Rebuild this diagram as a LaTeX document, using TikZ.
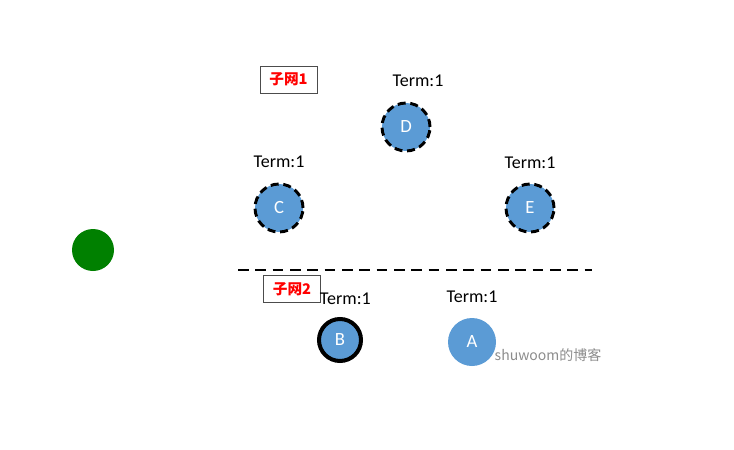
\documentclass[tikz,border=0pt]{standalone}
\usepackage{fontspec}
\setmainfont{Carlito}
\newfontfamily\cjk{Noto Sans CJK SC}
\usetikzlibrary{positioning}

\definecolor{hostblue}{RGB}{91,155,213}
\definecolor{rootgreen}{RGB}{0,128,0}

\begin{document}
\begin{tikzpicture}[
  x=0.75pt, y=-0.75pt,
  host/.style={circle, fill=hostblue, minimum size=48*0.75pt, inner sep=0pt, text=white, font=\fontsize{14}{16}\selectfont},
  member/.style={host, draw=black, line width=2.2pt, dash pattern=on 6pt off 3.5pt},
  switch/.style={host, draw=black, line width=3pt, minimum size=42*0.75pt},
  root/.style={circle, fill=rootgreen, minimum size=42*0.75pt, inner sep=0pt},
  term/.style={font=\fontsize{13.5}{15}\selectfont, inner sep=1pt},
  subnet/.style={draw=black!70, thin, text=red, font=\cjk\bfseries\fontsize{11}{13}\selectfont, minimum width=57*0.75pt, minimum height=27*0.75pt, inner sep=0pt},
  border/.style={line width=1.8pt, dash pattern=on 8pt off 5pt},
  wmark/.style={text=black!45, font=\cjk\fontsize{10.5}{12}\selectfont},
]
%canvas
\useasboundingbox (0,0) rectangle (734,449);

%root
\node[root] (root) at (93,250) {};

%subnet 1
\node[subnet] (sub1) at (288.5,79.5) {子网1};
\node[member] (D) at (406,127) {D};
\node[member] (C) at (279,208) {C};
\node[member] (E) at (530,208) {E};
\node[term, above=10pt of D, xshift=9pt] (tD) {Term:1};
\node[term, above=10pt of C] (tC) {Term:1};
\node[term, above=9pt of E] (tE) {Term:1};

%split
\coordinate (cutL) at (238,270);
\coordinate (cutR) at (592,270);
\draw[border] (cutL) -- (cutR);

%subnet 2
\node[subnet] (sub2) at (292,289) {子网2};
\node[switch] (B) at (340,340) {B};
\node[host] (A) at (472,342) {A};
\node[term, above=8pt of B, xshift=4pt] (tB) {Term:1};
\node[term, above=10pt of A] (tA) {Term:1};

\node[wmark, anchor=west] (wm) at (490,355) {shuwoom的博客};

\end{tikzpicture}
\end{document}
